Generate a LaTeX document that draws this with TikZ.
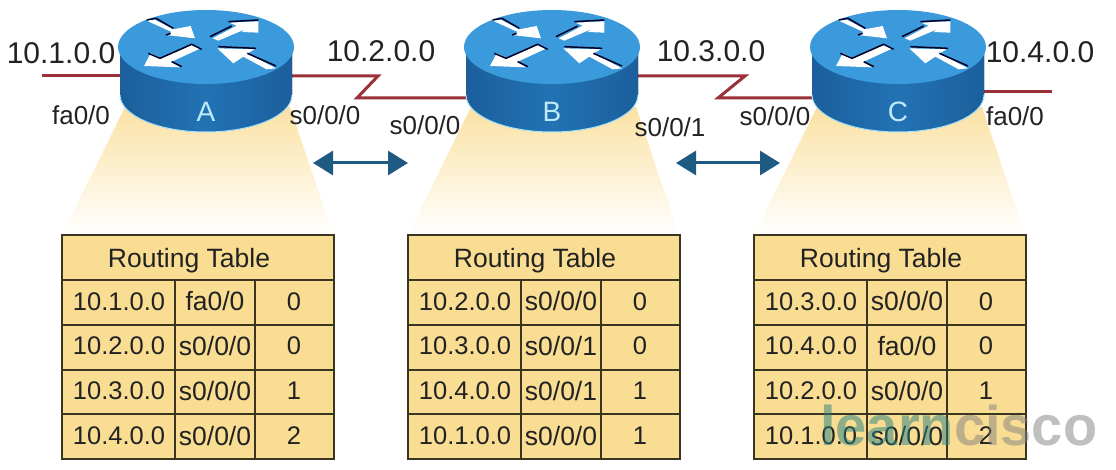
\documentclass[tikz,border=0pt]{standalone}
\usepackage{fontspec}
\setmainfont{Liberation Sans}
\usetikzlibrary{arrows.meta}
\definecolor{linkred}{HTML}{9A3038}
\definecolor{arrowblue}{HTML}{1F5A82}
\definecolor{routertopblue}{HTML}{3A9ADC}
\definecolor{routerside}{HTML}{2272B4}
\definecolor{routeredge}{HTML}{1B5F9C}
\definecolor{tablefill}{HTML}{F8DD93}
\definecolor{tableline}{HTML}{3A3520}
\definecolor{beamtop}{HTML}{FBE2A4}
\definecolor{labeltext}{HTML}{222222}
\tikzset{
	routerbox/.style={minimum width=172pt, minimum height=60pt, inner sep=0pt},
	netlabel/.style={font=\fontsize{30}{32}\selectfont, text=labeltext, inner sep=0pt},
	portlabel/.style={font=\fontsize{26}{28}\selectfont, text=labeltext, inner sep=0pt},
	cell/.style={font=\fontsize{25.5}{28}\selectfont, text=labeltext, inner sep=0pt},
	portcell/.style={font=\fontsize{26.5}{28}\selectfont, text=labeltext, inner sep=0pt},
	link/.style={linkred, line width=3pt},
	exchange/.style={arrowblue, line width=3pt, {Triangle[length=20pt,width=24pt]}-{Triangle[length=20pt,width=24pt]}},
	flowedge/.style={black!85!blue, line width=1.5pt},
	flow/.style={fill=white},
}
% one routing table: name, left edge, rows
\newcommand{\routingtable}[3]{
	\begin{scope}[shift={(#2,235)}]
		\node[draw=tableline, line width=2pt, fill=tablefill, minimum width=272pt, minimum height=224pt, inner sep=0pt] (tab#1) at (136,112) {};
		\node[portcell] (head#1) at (127,25.5) {Routing Table};
		\draw[tableline, line width=2pt] (0,45) -- (272,45);
		\draw[tableline, line width=2pt] (113,45) -- (113,224);
		\draw[tableline, line width=2pt] (193,45) -- (193,224);
		\foreach \net/\port/\hops [count=\r] in {#3} {
			\pgfmathsetmacro{\yy}{44+44.75*(\r-0.5)}
			\pgfmathsetmacro{\yl}{45+44.75*\r}
			\ifnum\r<4 \draw[tableline, line width=2pt] (0,\yl) -- (272,\yl); \fi
			\node[cell] (net#1\r) at (57,\yy) {\net};
			\node[portcell] (port#1\r) at (153,\yy) {\port};
			\node[cell] (hops#1\r) at (232,\yy) {\hops};
		}
	\end{scope}
}
\begin{document}
\begin{tikzpicture}[x=1pt, y=-1pt]
	\useasboundingbox (0,0) rectangle (1116,470);
	% Routers as boxes for the links
	\node[routerbox] (A) at (206,76) {};
	\node[routerbox] (B) at (552,76) {};
	\node[routerbox] (C) at (898,76) {};
	\coordinate (endA) at (42,76);
	\coordinate (endC) at (1052,92);
	\coordinate (portC) at (898,92);
	\coordinate (bendAa) at (378,76);
	\coordinate (bendAb) at (357,98);
	\coordinate (portB) at (552,98);
	\coordinate (bendBa) at (745,76);
	\coordinate (bendBb) at (718,98);
	\coordinate (portCw) at (898,98);

	% Links
	\draw[link] (endA) -- (A);
	\draw[link] (A) -- (bendAa) -- (bendAb) -- (portB);
	\draw[link] (B) -- (bendBa) -- (bendBb) -- (portCw);
	\draw[link] (portC) -- (endC);

	% Routers with their beams
	\foreach \rname/\x in {A/206,B/552,C/898} {
		\begin{scope}[shift={(\x,0)}]
			\shade[top color=beamtop, bottom color=white] (-81,107) -- (-144,235) -- (127,235) -- (84,107) -- cycle;
			\fill[left color=routeredge, right color=routeredge, middle color=routerside] (-86,47) -- (-86,95) arc (180:360:86pt and 37pt) -- (86,47) -- cycle;
			\draw[cyan!35!white, line width=1pt] (-86,95) arc (180:360:86pt and 37pt);
			\fill[routertopblue] (0,47) ellipse (88pt and 37pt);
			\begin{scope}[shift={(-76,10)}, x=0.3333pt, y=-0.3333pt]
				\fill[flow] (50,32) -- (72,28) -- (130,58) -- (182,48) -- (195,85) -- (108,75) -- (125,66) -- cycle;
				\draw[flowedge] (50,30) -- (78,25) -- (130,55);
				\draw[flowedge] (108,75) -- (122,70);
				\fill[flow] (248,85) -- (320,47) -- (298,38) -- (385,34) -- (385,68) -- (335,66) -- (345,58) -- (265,92) -- cycle;
				\draw[flowedge] (240,80) -- (305,48);
				\draw[flowedge] (295,35) -- (385,30);
				\fill[flow] (212,115) -- (185,105) -- (95,145) -- (62,130) -- (42,168) -- (150,172) -- (125,155) -- cycle;
				\draw[flowedge] (55,130) -- (90,145) -- (185,103) -- (215,118);
				\draw[flowedge] (125,155) -- (155,170);
				\fill[flow] (438,175) -- (410,178) -- (340,140) -- (310,160) -- (262,115) -- (375,118) -- (352,130) -- cycle;
				\draw[flowedge] (265,110) -- (378,115);
				\draw[flowedge] (352,130) -- (438,168);
			\end{scope}
			\node[font=\fontsize{28}{30}\selectfont, text=cyan!25!white, inner sep=0pt] (name\rname) at (0,112) {\rname};
		\end{scope}
	}

	% Network labels
	\node[netlabel] (netone) at (61,53) {10.1.0.0};
	\node[netlabel] (nettwo) at (381,51) {10.2.0.0};
	\node[netlabel] (netthree) at (711,51) {10.3.0.0};
	\node[netlabel] (netfour) at (1040,52) {10.4.0.0};

	% Interface labels
	\node[portlabel] (portAfa) at (81,115) {fa0/0};
	\node[portlabel] (portAs) at (325,115) {s0/0/0};
	\node[portlabel] (portBs) at (425,125) {s0/0/0};
	\node[portlabel] (portBt) at (670,127) {s0/0/1};
	\node[portlabel] (portCs) at (775,116) {s0/0/0};
	\node[portlabel] (portCfa) at (1015,116) {fa0/0};

	% Update arrows
	\coordinate (swapAl) at (313,163);
	\coordinate (swapAr) at (408,163);
	\coordinate (swapBl) at (676,163);
	\coordinate (swapBr) at (780,163);
	\draw[exchange] (swapAl) -- (swapAr);
	\draw[exchange] (swapBl) -- (swapBr);

	% Tables
	\routingtable{A}{62}{10.1.0.0/{fa0/0}/0, 10.2.0.0/{s0/0/0}/0, 10.3.0.0/{s0/0/0}/1, 10.4.0.0/{s0/0/0}/2}
	\routingtable{B}{408}{10.2.0.0/{s0/0/0}/0, 10.3.0.0/{s0/0/1}/0, 10.4.0.0/{s0/0/1}/1, 10.1.0.0/{s0/0/0}/1}
	\routingtable{C}{754}{10.3.0.0/{s0/0/0}/0, 10.4.0.0/{fa0/0}/0, 10.2.0.0/{s0/0/0}/1, 10.1.0.0/{s0/0/0}/2}

	% Watermark
	\node[font=\fontsize{56}{58}\selectfont\bfseries, opacity=0.5, inner sep=0pt, text=gray, anchor=base west] (mark) at (820,445) {\textcolor{teal!70!gray}{learn}cisco};
\end{tikzpicture}
\end{document}
